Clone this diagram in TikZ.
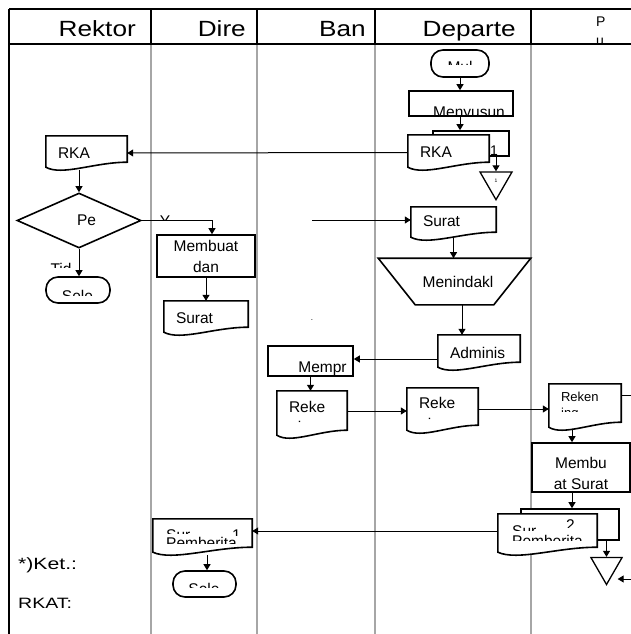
\documentclass[tikz,border=0pt]{standalone}
\usepackage{fontspec}
\setmainfont{Liberation Sans}
\usetikzlibrary{arrows.meta,calc,shapes.geometric}

\newcommand{\teks}{\fontsize{15.5}{21}\selectfont}
\newcommand{\dokgaris}[1]{%
        \draw[bentuk] (#1.north west) -- (#1.north east) -- ([yshift=8pt]#1.south east)
                .. controls ($(#1.south east)!0.4!(#1.south west)+(0pt,8pt)$) and ($(#1.south west)!0.2!(#1.south east)+(0pt,-6pt)$)
                .. ([yshift=3pt]#1.south west) -- cycle;}

\tikzset{
        lajur/.style={gray!70, line width=1.5pt},
        garis/.style={black, line width=1.5pt},
        hubung/.style={line width=1pt},
        flow/.style={hubung, -{Triangle[length=6pt,width=7pt]}},
        bentuk/.style={draw, line width=1.6pt},
        proses/.style={bentuk, rectangle, fill=white, inner sep=0pt, align=center, font=\teks},
        kotak/.style={bentuk, rectangle, fill=white, inner sep=0pt},
        terminal/.style={bentuk, rectangle, rounded corners=12pt, fill=white, inner sep=0pt},
        dokumen/.style={rectangle, fill=white, inner xsep=12pt, inner ysep=0pt, align=left, font=\teks},
        putusan/.style={bentuk, diamond, fill=white, inner sep=0pt, font=\teks},
        segitiga/.style={bentuk, regular polygon, regular polygon sides=3, shape border rotate=180, fill=white, inner sep=0pt, line width=1.3pt},
        kepala/.style={inner sep=0pt, font=\fontsize{22}{26}\selectfont},
        potong/.style={inner sep=0pt, font=\teks},
}

\begin{document}
\begin{tikzpicture}[x=1pt, y=-1pt]
        \useasboundingbox (0,0) rectangle (631,634);
        % lajur dan kepala tabel
        \foreach \x in {151,257,375,531}
                \draw[lajur] (\x,44) -- (\x,634);
        \draw[garis] (9,9) -- (631,9);
        \draw[garis] (9,44) -- (631,44);
        \draw[garis] (9,9) -- (9,634);
        \foreach \x in {151,257,375,531}
                \draw[garis] (\x,9) -- (\x,44);
        \foreach \x/\t/\n in {136/Rektor/hRektor, 246/Dire/hDire, 366/Ban/hBan, 516/Departe/hDept}
                \node[kepala, anchor=base east] (\n) at (\x,37) {\scalebox{1.19}[1]{\t}};
        \begin{scope}
                \clip (531,9) rectangle (631,43);
                \node[anchor=north west, inner sep=0pt, align=left, font=\fontsize{14}{19}\selectfont] (hPu) at (596,17) {P\\u};
        \end{scope}

        % bentuk
        \node[terminal, minimum width=58pt, minimum height=27pt] (mulai) at (460,63.5) {};
        \node[proses, minimum width=104pt, minimum height=25pt] (susun) at (461,103.5) {};
        \node[kotak, minimum width=76pt, minimum height=25pt] (rkaB) at (471,143.5) {};
        \node[dokumen, text width=57pt, minimum height=35pt] (rkaD) at (448.5,152.5) {RKA};
        \node[inner sep=0pt, anchor=base, font=\fontsize{14}{16}\selectfont] (no1) at (494,155) {1};
        \node[segitiga, minimum size=37pt] (tri1) at (496,181.2) {\tiny 1};
        \node[dokumen, text width=57pt, minimum height=34pt] (rkaR) at (86.5,153) {RKA};
        \node[putusan, minimum width=124pt, minimum height=55pt] (tanya) at (79,220.5) {\hspace*{15pt}Pe};
        \node[proses, minimum width=98pt, minimum height=42pt] (buat) at (206,256) {Membuat\\dan};
        \node[terminal, minimum width=64pt, minimum height=26pt] (selesai1) at (78,290) {};
        \node[dokumen, text width=60pt, minimum height=34pt] (suratR) at (206,318) {Surat};
        \coordinate (asal) at (312,220);
        \node[dokumen, text width=61pt, minimum height=33pt, text height=11pt, text depth=5pt] (suratD) at (453.5,223.5) {Surat};
        \node[inner sep=0pt, anchor=base, font=\fontsize{8}{8}\selectfont] (titik) at (312,320) {.};
        \node[proses, draw=none, fill=none, minimum width=151pt, minimum height=45pt] (tindak) at (454.5,281.5) {\hspace*{7pt}Menindakl};
        \node[dokumen, text width=58pt, minimum height=35pt] (admin) at (479,352.5) {Adminis};
        \node[proses, minimum width=85pt, minimum height=30pt, text height=26pt] (mempr) at (310.5,361) {\hspace*{24pt}Mempr};
        \node[dokumen, text width=46pt, minimum height=47pt, text height=11pt, text depth=15pt] (rekeB) at (312,414.5) {Reke};
        \node[dokumen, text width=47pt, minimum height=45pt, text height=11pt, text depth=15pt] (rekeD) at (442.5,410.5) {Reke};
        \node[dokumen, text width=48pt, minimum height=46pt, font=\fontsize{13}{15}\selectfont, text height=9.3pt, text depth=20pt] (rekeP) at (585,407) {Reken};
        \node[proses, minimum width=98pt, minimum height=49pt] (membu) at (581,467.5) {\rule{0pt}{23pt}Membu\\at Surat};
        \node[kotak, minimum width=98pt, minimum height=31pt] (srtB) at (570,524.5) {};
        \node[dokumen, text width=75pt, minimum height=41pt] (srtD) at (547.5,534.5) {};
        \node[segitiga, minimum size=36pt] (tri2) at (606.5,566.5) {};
        \coordinate (keluar) at (631,395);
        \coordinate (masuk) at (631,579);
        \node[dokumen, text width=75pt, minimum height=36pt] (sur1) at (202.5,537) {};
        \node[terminal, minimum width=63pt, minimum height=26pt] (selesai2) at (204.5,584) {};
        \node[inner sep=0pt, anchor=base west, font=\fontsize{16.3}{18}\selectfont] (ket) at (18,569) {\scalebox{1.3}[1]{*)Ket.:}};
        \node[inner sep=0pt, anchor=base west, font=\fontsize{15}{18}\selectfont] (rkat) at (18,608.5) {\scalebox{1.3}[1]{RKAT:}};

        \draw[bentuk] (tindak.north west) -- (tindak.north east) -- ([xshift=-37pt]tindak.south east) -- ([xshift=37pt]tindak.south west) -- cycle;
        \foreach \d in {rkaD,rkaR,suratR,suratD,admin,rekeB,rekeD,rekeP,srtD,sur1}
                \dokgaris{\d};

        % teks yang terpotong
        \begin{scope}
                \clip (431,50) rectangle (489,65);
                \node[potong, anchor=base] (tMul) at (460,72) {Mul};
        \end{scope}
        \begin{scope}
                \clip (409,91) rectangle (513,116);
                \node[potong, anchor=base] (tSusun) at (469,117) {Menyusun};
        \end{scope}
        \begin{scope}
                \clip (150,205) rectangle (185,220);
                \node[potong, anchor=base] (tY) at (165,226) {Y};
        \end{scope}
        \begin{scope}
                \clip (40,255) rectangle (90,267.5);
                \node[potong, anchor=base] (tTid) at (61,274) {Tid};
        \end{scope}
        \begin{scope}
                \clip (46,277) rectangle (110,295);
                \node[potong, anchor=base] (tSele1) at (77.5,301) {Sele};
        \end{scope}
        \begin{scope}
                \clip (173,571) rectangle (236,587.5);
                \node[potong, anchor=base] (tSele2) at (204,594) {Sele};
        \end{scope}
        \begin{scope}
                \clip (277,400) rectangle (347,422);
                \node[potong, anchor=base west] (tNingB) at (289,432) {ning};
        \end{scope}
        \begin{scope}
                \clip (407,400) rectangle (478,419);
                \node[potong, anchor=base west] (tNingD) at (419,429) {ning};
        \end{scope}
        \begin{scope}
                \clip (549,400) rectangle (621,411);
                \node[potong, anchor=base west, font=\fontsize{13}{15}\selectfont] (tIng) at (561,417) {ing};
        \end{scope}
        \begin{scope}
                \clip (153,519) rectangle (225,533.5);
                \node[potong, anchor=base west] (tSur1) at (166,540) {Sur};
        \end{scope}
        \begin{scope}
                \clip (225,519) rectangle (252,535.5);
                \node[potong, anchor=base west] (tSatu) at (232,540) {1};
        \end{scope}
        \begin{scope}
                \clip (153,535) rectangle (252,543);
                \node[potong, anchor=base west] (tPemb1) at (166,548) {Pemberita};
        \end{scope}
        \begin{scope}
                \clip (498,514) rectangle (560,530);
                \node[potong, anchor=base west] (tSur2) at (512,536) {Sur};
        \end{scope}
        \begin{scope}
                \clip (560,514) rectangle (597,527);
                \node[potong, anchor=base west] (tDua) at (566,530) {2};
        \end{scope}
        \begin{scope}
                \clip (498,532) rectangle (597,540);
                \node[potong, anchor=base west] (tPemb2) at (512,546) {Pemberita};
        \end{scope}

        % alur
        \draw[flow] (mulai.south) -- (mulai.south |- susun.north);
        \draw[flow] (susun.south -| mulai.south) -- (rkaB.north -| mulai.south);
        \draw[flow] (rkaB.south -| tri1.north) -- (tri1.north);
        \draw[flow] (rkaD.west) -- (rkaR.east);
        \draw[flow] (rkaR.south -| tanya.north) -- (tanya.north);
        \draw[flow] (tanya.east) -| ([xshift=6pt]buat.north);
        \draw[flow] (tanya.south) -- (tanya.south |- selesai1.north);
        \draw[flow] (buat.south) -- (suratR.north);
        \draw[flow] (asal) -- (asal -| suratD.west);
        \draw[flow] ([yshift=3pt]suratD.south) -- (suratD.south |- tindak.north);
        \draw[flow] ([xshift=7.5pt]tindak.south) -- ([xshift=7.5pt]tindak.south |- admin.north);
        \draw[flow] ([yshift=-6.5pt]admin.west) -- ([yshift=-6.5pt]admin.west -| mempr.east);
        \draw[flow] (mempr.south) -- (mempr.south |- rekeB.north);
        \draw[flow] ([yshift=3.5pt]rekeB.east) -- ([yshift=3.5pt]rekeB.east -| rekeD.west);
        \draw[flow] ([yshift=1.5pt]rekeD.east) -- ([yshift=1.5pt]rekeD.east -| rekeP.west);
        \draw[hubung] ([yshift=12pt]rekeP.east) -- ([yshift=12pt]rekeP.east -| keluar);
        \draw[flow] ([xshift=-13pt]rekeP.south) -- ([xshift=-13pt]rekeP.south |- membu.north);
        \draw[flow] ([xshift=-9pt]membu.south) -- ([xshift=-9pt]membu.south |- srtB.north);
        \draw[flow] (srtB.south -| tri2.north) -- (tri2.north);
        \draw[flow] (masuk) -- (masuk -| tri2.east);
        \draw[flow] ([yshift=3.5pt]srtD.west) -- ([yshift=3.5pt]srtD.west -| sur1.east);
        \draw[flow] ([xshift=4.5pt]sur1.south) -- ([xshift=4.5pt]sur1.south |- selesai2.north);
\end{tikzpicture}
\end{document}
